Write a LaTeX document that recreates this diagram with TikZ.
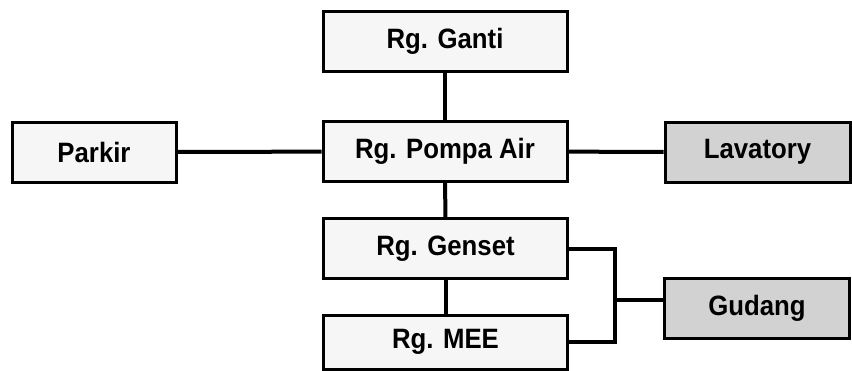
\documentclass[tikz,border=0pt]{standalone}
\usepackage{fontspec}
\setmainfont{Liberation Sans}[FakeStretch=0.92]
\begin{document}
\begin{tikzpicture}[x=0.5pt, y=-0.5pt, line width=2pt,
  room/.style={draw, line width=1.5pt, fill=gray!7, inner sep=0pt,
    minimum width=122pt, minimum height=30pt,
    font=\bfseries\fontsize{14}{16}\selectfont},
  darkroom/.style={room, fill=gray!35, minimum width=92.5pt}]
\useasboundingbox (0,0) rectangle (852,370);
\node[room] (ganti) at (445,41.5) {Rg. Ganti};
\node[room] (pompa) at (445,151.5) {Rg. Pompa Air};
\node[room] (genset) at (445.5,248.5) {Rg. Genset};
\node[room, minimum height=27pt] (mee) at (445.5,342) {Rg. MEE};
\node[room, minimum width=82pt] (parkir) at (94,152) {Parkir};
\node[darkroom] (lavatory) at (757.5,152) {Lavatory};
\node[darkroom] (gudang) at (757,308) {Gudang};
\coordinate (brk) at (615,300);

\draw (ganti) -- (pompa);
\draw (pompa) -- (genset);
\draw (genset) -- (mee);
\draw (parkir) -- (pompa);
\draw (pompa) -- (lavatory);
\draw (genset.east) -| (brk) |- (mee.east);
\draw (gudang.west |- brk) -- (brk);
\end{tikzpicture}
\end{document}
